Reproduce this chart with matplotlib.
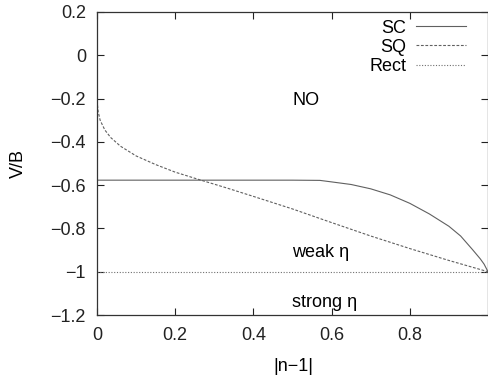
import matplotlib
matplotlib.use("Agg")
import matplotlib.pyplot as plt

plt.rcParams['font.family'] = ['Liberation Sans', 'DejaVu Sans']

# SC curve
sc_x = [0.0, 0.1, 0.2, 0.3, 0.4, 0.5, 0.57, 0.6, 0.65, 0.7, 0.75, 0.8, 0.85,
        0.9, 0.93, 0.96, 0.98, 0.99, 1.0]
sc_y = [-0.577, -0.577, -0.577, -0.577, -0.577, -0.577, -0.578, -0.585, -0.597,
        -0.617, -0.645, -0.684, -0.733, -0.79, -0.835, -0.897, -0.94, -0.965, -1.0]

# SQ curve
sq_x = [0.0, 0.003, 0.008, 0.02, 0.035, 0.06, 0.1, 0.15, 0.2, 0.264, 0.33, 0.4,
        0.5, 0.6, 0.7, 0.8, 0.9, 1.0]
sq_y = [-0.21, -0.26, -0.30, -0.345, -0.38, -0.42, -0.465, -0.505, -0.54, -0.576,
        -0.612, -0.652, -0.71, -0.773, -0.835, -0.893, -0.948, -1.0]

# Rect line
rect_x = [0.0, 1.0]
rect_y = [-1.0, -1.0]

x_ticks = [0, 0.2, 0.4, 0.6, 0.8]
x_ticklabels = ['0', '0.2', '0.4', '0.6', '0.8']
y_ticks = [0.2, 0, -0.2, -0.4, -0.6, -0.8, -1, -1.2]
y_ticklabels = ['0.2', '0', '\u22120.2', '\u22120.4', '\u22120.6', '\u22120.8', '\u22121', '\u22121.2']

region_labels = ['NO', 'weak \u03b7', 'strong \u03b7']
region_x = [0.5, 0.5, 0.5]
region_y = [-0.23, -0.932, -1.165]

FS = 13

fig = plt.figure(figsize=(4.88, 3.78), dpi=100)
ax = fig.add_axes([97/488, 1 - 315/378, 391/488, (315 - 12)/378])

ax.plot(sc_x, sc_y, color='#606060', lw=0.8, label='SC')
ax.plot(sq_x, sq_y, color='#606060', lw=0.8, dashes=(2.5, 1.5), label='SQ')
ax.plot(rect_x, rect_y, color='#707070', lw=0.8, dashes=(1, 1.5), label='Rect')

ax.set_xlim(0, 1)
ax.set_ylim(-1.2, 0.2)
ax.set_xticks(x_ticks)
ax.set_xticklabels(x_ticklabels)
ax.set_yticks(y_ticks)
ax.set_yticklabels(y_ticklabels)
ax.tick_params(direction='in', top=True, right=True, length=5, width=0.8,
               labelsize=FS, colors='#222222')
ax.tick_params(axis='x', pad=9)
ax.tick_params(axis='y', pad=8)
for s in ax.spines.values():
    s.set_linewidth(0.9)
    s.set_color('#333333')

for t, x, y in zip(region_labels, region_x, region_y):
    ax.text(x, y, t, ha='left', va='baseline', fontsize=FS)

ax.set_xlabel('|n\u22121|', fontsize=FS)
ax.set_ylabel('V/B', fontsize=FS)
ax.xaxis.set_label_coords(0.501, -0.142)
ax.yaxis.set_label_coords(-0.179, 0.5)

leg = ax.legend(loc='upper right', bbox_to_anchor=(0.944, 0.975), markerfirst=False,
                frameon=False, fontsize=FS, handlelength=2.77, handletextpad=0.55,
                labelspacing=0.12, borderaxespad=0, borderpad=0)
for t in leg.get_texts():
    t.set_ha('right')
leg._legend_box.align = 'right'

fig.savefig('out.png', dpi=100)
